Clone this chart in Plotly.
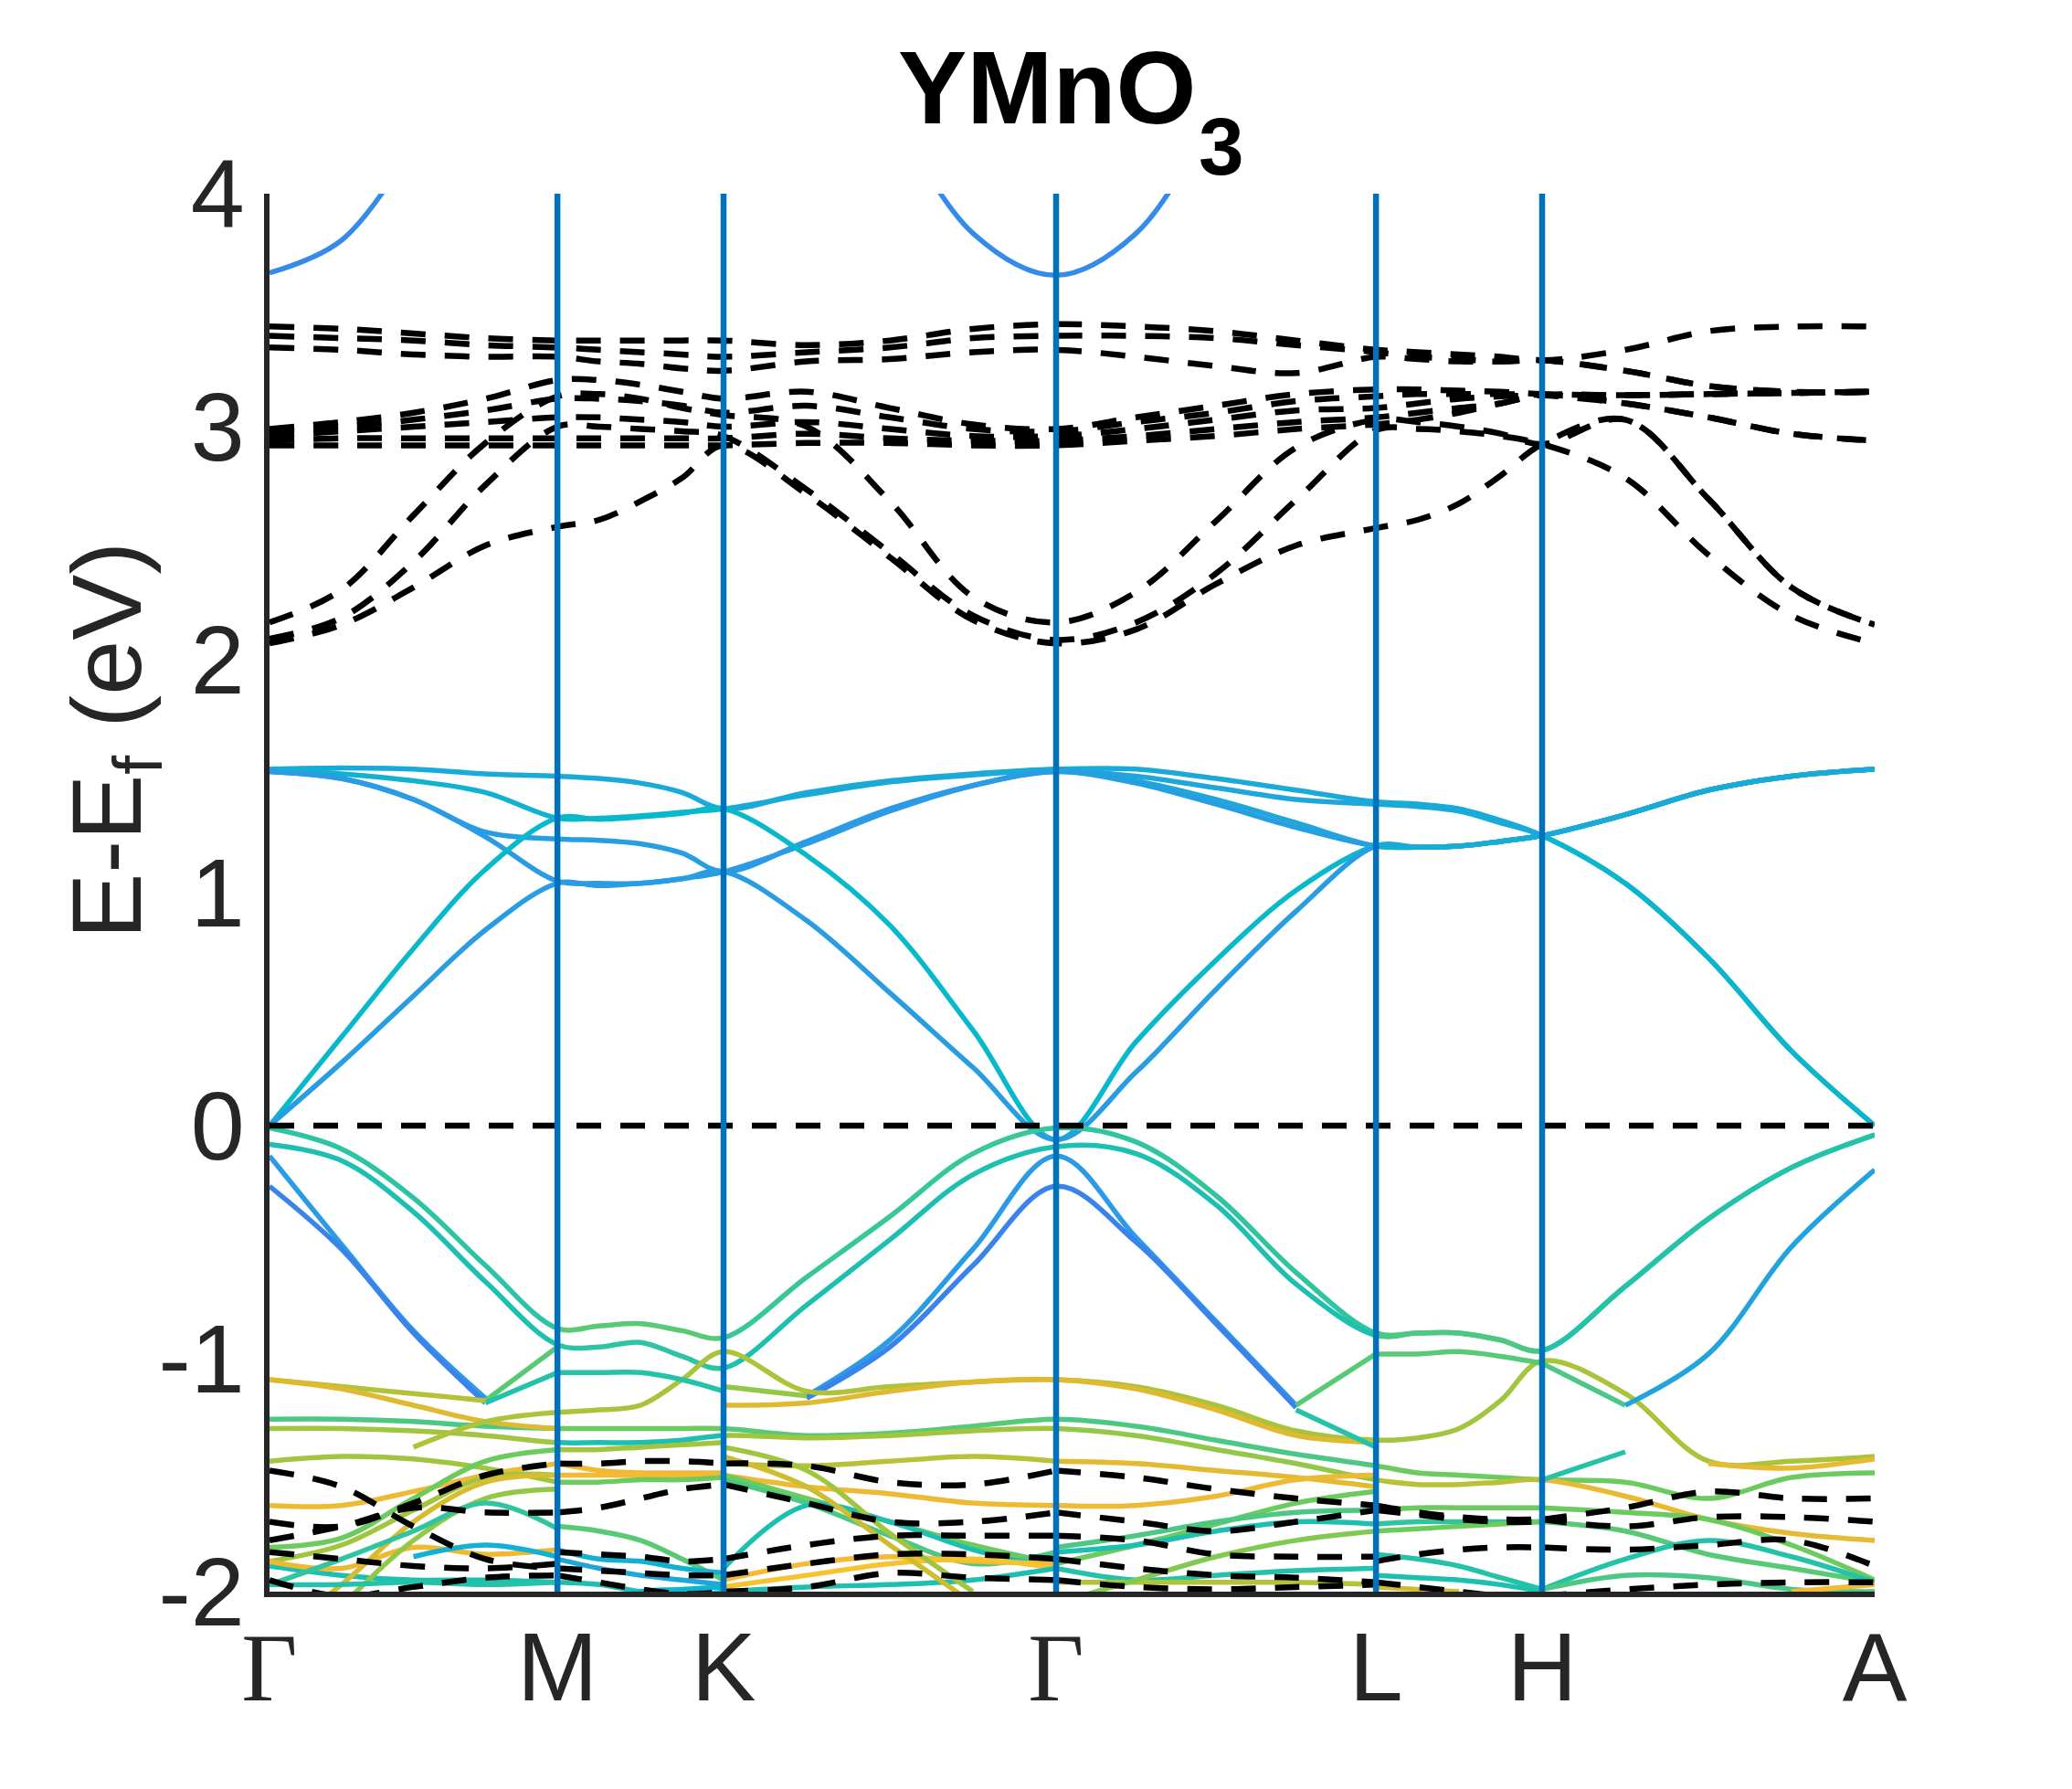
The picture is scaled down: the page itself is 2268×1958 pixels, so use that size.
import numpy as np
import plotly.graph_objects as go
from plotly.colors import sample_colorscale

##### Data #####
# high-symmetry points along the k-path (units of |Gamma-M|)
K_TICKS = [0.0, 1.0, 1.577, 2.732, 3.843, 4.420, 5.575]
K_LABELS = ['Γ', 'M', 'K', 'Γ', 'L', 'H', 'A']
Y_TICKS = [-2, -1, 0, 1, 2, 3, 4]
Y_TICK_LABELS = ['-2', '-1', '0', '1', '2', '3', '4']
E_FERMI = 0.0
PTS_PER_SEG = 5   # samples per path segment (both ends included)

# bands followed along the whole path: 25 values (4 steps per segment), eV
# weights = orbital projection per segment (0..1)
PATH_BANDS = [
    [1.53, 1.535, 1.53, 1.51, 1.50, 1.49, 1.47, 1.43, 1.36, 1.43, 1.48, 1.51, 1.53,
     1.53, 1.49, 1.44, 1.39, 1.38, 1.36, 1.31, 1.245, 1.04, 0.72, 0.32, 0.0],
    [1.53, 1.51, 1.48, 1.43, 1.32, 1.32, 1.33, 1.345, 1.36, 1.42, 1.475, 1.505, 1.525,
     1.50, 1.45, 1.40, 1.38, 1.37, 1.35, 1.30, 1.245, 1.04, 0.72, 0.32, 0.0],
    [1.52, 1.49, 1.40, 1.26, 1.23, 1.225, 1.21, 1.17, 1.09, 1.22, 1.36, 1.46, 1.52,
     1.48, 1.40, 1.30, 1.20, 1.195, 1.20, 1.22, 1.245, 1.335, 1.44, 1.50, 1.53],
    [1.52, 1.49, 1.40, 1.24, 1.05, 1.04, 1.04, 1.06, 1.09, 1.21, 1.35, 1.46, 1.52,
     1.47, 1.38, 1.28, 1.20, 1.195, 1.20, 1.22, 1.245, 1.335, 1.44, 1.50, 1.53],
    [0.0, 0.38, 0.76, 1.10, 1.32, 1.315, 1.325, 1.34, 1.36, 1.16, 0.86, 0.41, -0.06,
     0.36, 0.71, 1.01, 1.20, 1.195, 1.20, 1.22, 1.245, 1.335, 1.44, 1.50, 1.53],
    [0.0, 0.27, 0.557, 0.84, 1.04, 1.03, 1.04, 1.06, 1.09, 0.88, 0.57, 0.25, -0.06,
     0.23, 0.585, 0.92, 1.20, 1.195, 1.20, 1.22, 1.245, 1.335, 1.44, 1.50, 1.53],
    [3.66, 3.80, 4.21, None, None, None, None, None, None, None, 4.38, 3.83, 3.65,
     3.83, 4.36, None, None, None, None, None, None, None, None, None, None],
    [-0.01, -0.10, -0.31, -0.60, -0.87, -0.86, -0.85, -0.88, -0.91, -0.65, -0.39, -0.12, -0.01,
     -0.07, -0.30, -0.63, -0.89, -0.89, -0.89, -0.92, -0.965, -0.69, -0.40, -0.18, -0.04],
    [-0.08, -0.15, -0.37, -0.67, -0.94, -0.95, -0.93, -0.99, -1.04, -0.77, -0.49, -0.21, -0.09,
     -0.12, -0.34, -0.68, -0.90, -0.89, -0.89, -0.92, -0.965, -0.69, -0.40, -0.18, -0.04],
    [-0.13, -0.51, -0.88, -1.17, None, None, None, None, None, -1.16, -0.92, -0.53, -0.13,
     -0.48, -0.84, -1.20, None, None, None, None, None, None, None, None, None],
    [-0.26, -0.53, -0.89, -1.19, None, None, None, None, None, -1.17, -0.95, -0.60, -0.26,
     -0.50, -0.85, -1.21, None, None, None, None, None, None, None, None, None],
    [None, None, None, None, -1.23, -1.22, -1.20, -1.09, -0.97, -1.14, -1.12, -1.10, -1.09,
     -1.12, -1.20, -1.31, -1.35, -1.34, -1.30, -1.18, -1.01, -1.15, -1.44, -1.44, -1.42],
    [None, None, None, None, None, None, None, None, -1.20, -1.19, -1.14, -1.10, -1.09,
     -1.13, -1.22, -1.33, -1.36, None, None, None, None, None, None, None, None],
    [-1.26, -1.26, -1.27, -1.29, -1.30, -1.30, -1.30, -1.30, -1.30, -1.33, -1.32, -1.29, -1.26,
     -1.29, -1.35, -1.41, -1.46, -1.49, -1.50, -1.51, -1.52, -1.53, -1.60, -1.51, -1.49],
    [-1.30, -1.30, -1.31, -1.33, -1.36, -1.36, -1.36, -1.35, -1.33, -1.34, -1.33, -1.31, -1.30,
     -1.33, -1.39, -1.45, -1.52, -1.54, -1.54, -1.53, -1.52, -1.59, -1.69, -1.75, -1.78],
]
PATH_WEIGHTS = [
    [0.27, 0.27, 0.27, 0.27, 0.27, 0.32],
    [0.30, 0.33, 0.27, 0.25, 0.27, 0.32],
    [0.22, 0.22, 0.20, 0.25, 0.28, 0.27],
    [0.20, 0.20, 0.20, 0.22, 0.28, 0.27],
    [0.33, 0.33, 0.33, 0.33, 0.28, 0.27],
    [0.21, 0.21, 0.21, 0.21, 0.28, 0.27],
    [0.15, 0.15, 0.15, 0.15, 0.15, 0.15],
    [0.44, 0.52, 0.47, 0.45, 0.50, 0.42],
    [0.40, 0.44, 0.40, 0.40, 0.50, 0.42],
    [0.20, 0.20, 0.20, 0.20, 0.20, 0.20],
    [0.12, 0.12, 0.12, 0.12, 0.12, 0.12],
    [0.65, 0.63, 0.64, 0.63, 0.62, 0.63],
    [0.74, 0.74, 0.74, 0.74, 0.74, 0.74],
    [0.50, 0.55, 0.52, 0.50, 0.55, 0.55],
    [0.62, 0.40, 0.62, 0.60, 0.66, 0.76],
]
# other spin channel followed along the whole path (eV)
PATH_DASHED = [
    [3.43, 3.42, 3.40, 3.38, 3.37, 3.37, 3.37, 3.37, 3.37, 3.35, 3.37, 3.42, 3.44,
     3.43, 3.41, 3.37, 3.33, 3.32, 3.31, 3.30, 3.285, 3.33, 3.41, 3.43, 3.43],
    [3.39, 3.38, 3.37, 3.35, 3.34, 3.33, 3.32, 3.31, 3.30, 3.32, 3.34, 3.38, 3.39,
     3.39, 3.38, 3.35, 3.32, 3.30, 3.29, 3.28, 3.285, 3.24, 3.175, 3.15, 3.15],
    [3.34, 3.33, 3.31, 3.30, 3.30, 3.28, 3.27, 3.25, 3.24, 3.28, 3.29, 3.32, 3.33,
     3.30, 3.26, 3.23, 3.30, 3.29, 3.28, 3.28, 3.285, 3.24, 3.175, 3.15, 3.15],
    [2.99, 3.02, 3.06, 3.12, 3.20, 3.20, 3.18, 3.15, 3.12, 3.15, 3.08, 3.01, 2.99,
     3.04, 3.09, 3.14, 3.16, 3.16, 3.155, 3.15, 3.14, 3.135, 3.14, 3.145, 3.15],
    [2.98, 3.00, 3.03, 3.07, 3.12, 3.12, 3.11, 3.09, 3.06, 3.09, 3.04, 2.99, 2.98,
     3.02, 3.06, 3.11, 3.13, 3.14, 3.14, 3.14, 3.135, 3.10, 3.04, 2.97, 2.94],
    [2.96, 2.98, 3.00, 3.02, 3.04, 3.04, 3.03, 3.02, 3.00, 3.02, 2.99, 2.96, 2.96,
     2.99, 3.03, 3.07, 3.08, 3.10, 3.12, 3.13, 3.135, 3.135, 3.14, 3.145, 3.15],
    [2.94, 2.95, 2.95, 2.95, 2.95, 2.95, 2.95, 2.95, 2.95, 2.97, 2.95, 2.94, 2.94,
     2.96, 2.99, 3.02, 3.04, 3.06, 3.08, 3.10, 3.135, 3.10, 3.04, 2.97, 2.94],
    [2.92, 2.92, 2.92, 2.92, 2.92, 2.92, 2.92, 2.92, 2.92, 2.93, 2.93, 2.92, 2.92,
     2.94, 2.96, 2.99, 3.01, 3.03, 3.06, 3.10, 3.135, 3.135, 3.14, 3.145, 3.15],
    [2.16, 2.30, 2.62, 2.93, 3.13, 3.14, 3.12, 3.08, 3.05, 3.00, 2.68, 2.27, 2.16,
     2.29, 2.595, 2.91, 3.03, 3.02, 3.00, 2.97, 2.925, 3.03, 2.69, 2.31, 2.15],
    [2.09, 2.18, 2.42, 2.75, 3.00, 3.00, 2.99, 2.98, 2.96, 2.73, 2.46, 2.19, 2.085,
     2.16, 2.37, 2.685, 2.985, 2.99, 2.98, 2.96, 2.925, 2.78, 2.45, 2.19, 2.07],
    [2.07, 2.15, 2.31, 2.49, 2.57, 2.60, 2.68, 2.78, 2.92, 2.71, 2.44, 2.17, 2.07,
     2.13, 2.325, 2.49, 2.565, 2.60, 2.67, 2.79, 2.925, 3.03, 2.69, 2.31, 2.15],
]

# short pieces inside one segment (5 values each), mostly the tangle below -1 eV
GM_BANDS = [
    [None, None, None, -1.18, -0.95],
    [None, None, None, -1.19, -1.06],
    [-1.09, -1.12, -1.15, -1.18, None],
    [-1.09, -1.13, -1.20, -1.27, -1.30],
    [-1.44, -1.42, -1.43, -1.47, -1.53],
    [None, None, -1.38, -1.27, -1.23],
    [-1.63, -1.63, -1.57, -1.50, -1.45],
    [-1.81, -1.77, -1.60, -1.44, -1.39],
    [-1.87, -1.80, -1.65, -1.51, -1.50],
    [-1.89, -1.93, -1.95, -1.95, -1.96],
    [-1.87, -1.90, -1.81, -1.84, -1.82],
    [-2.20, -1.97, -1.70, -1.53, -1.50],
    [-2.35, -2.06, -1.78, -1.60, -1.56],
    [-1.97, -1.86, -1.74, -1.62, -1.73],
    [None, None, -1.85, -1.80, -1.85],
    [-1.97, -1.97, -1.96, -1.97, -1.96],
]
GM_WEIGHTS = [0.52, 0.42, 0.65, 0.74, 0.62, 0.64, 0.78, 0.55, 0.62, 0.40, 0.78, 0.72,
              0.60, 0.45, 0.30, 0.42]
GM_DASHED = [
    [-1.48, -1.55, -1.72, -1.86, -1.90],
    [-1.70, -1.72, -1.62, -1.50, -1.45],
    [-1.78, -1.72, -1.64, -1.66, -1.66],
    [-1.83, -1.86, -1.89, -1.90, -1.88],
    [-1.95, -2.02, -1.98, -1.94, -1.93],
]

MK_BANDS = [
    [-1.06, -1.06, -1.06, -1.09, -1.14],
    [-1.39, -1.39, -1.38, -1.37, -1.36],
    [-1.45, -1.48, -1.49, -1.49, -1.49],
    [-1.50, -1.50, -1.50, -1.50, -1.50],
    [-1.53, -1.53, -1.52, -1.52, -1.51],
    [-1.72, -1.74, -1.78, -1.86, -1.95],
    [-1.82, -1.86, -1.87, -1.90, -1.92],
    [-1.86, -1.90, -1.93, -1.95, -1.97],
    [-1.96, -1.97, -2.00, -2.02, -2.00],
    [None, -2.05, -2.00, -1.99, -1.98],
]
MK_WEIGHTS = [0.42, 0.62, 0.78, 0.80, 0.55, 0.52, 0.30, 0.25, 0.40, 0.32]
MK_DASHED = [
    [-1.45, -1.45, -1.44, -1.44, -1.45],
    [-1.66, -1.64, -1.60, -1.56, -1.54],
    [-1.83, -1.84, -1.85, -1.87, -1.86],
    [-1.90, -1.91, -1.92, -1.93, -1.93],
    [-1.93, -1.96, -1.99, -2.01, -2.00],
]

KG_BANDS = [
    [-1.12, -1.16, None, None, None],
    [-1.45, -1.46, -1.44, -1.42, -1.44],
    [-1.50, -1.55, -1.58, -1.62, -1.63],
    [-1.50, -1.60, -1.70, -1.80, -1.88],
    [-1.52, -1.62, -1.76, -1.88, -1.83],
    [-1.90, -1.63, -1.70, -1.82, -1.90],
    [-1.95, -1.88, -1.85, -1.87, -1.88],
    [-1.98, -1.93, -1.88, -1.86, -1.90],
    [-2.00, -1.98, -1.97, -1.95, -1.90],
    [-1.42, -1.55, -1.80, -2.05, None],
    [-1.38, -1.48, -1.75, -2.00, None],
]
KG_WEIGHTS = [0.60, 0.66, 0.78, 0.55, 0.50, 0.40, 0.80, 0.86, 0.40, 0.70, 0.62]
KG_DASHED = [
    [-1.45, -1.46, -1.53, -1.54, -1.48],
    [-1.54, -1.62, -1.70, -1.70, -1.66],
    [-1.86, -1.80, -1.76, -1.76, -1.76],
    [-1.93, -1.88, -1.84, -1.84, -1.86],
    [-2.00, -1.98, -1.92, -1.94, -1.95],
]

GL_BANDS = [
    [None, None, None, -1.20, -0.98],
    [None, None, None, -1.22, -1.38],
    [-1.44, -1.45, -1.48, -1.51, -1.55],
    [-1.63, -1.63, -1.59, -1.52, -1.50],
    [-1.88, -1.80, -1.71, -1.62, -1.57],
    [-1.81, -1.76, -1.70, -1.66, -1.65],
    [-1.90, -1.95, -1.93, -1.91, -1.90],
    [-1.96, -1.96, -1.96, -1.96, -1.97],
    [-1.83, -1.80, -1.74, -1.70, -1.71],
    [-2.05, -1.95, -1.85, -1.78, -1.74],
]
GL_WEIGHTS = [0.52, 0.42, 0.75, 0.78, 0.55, 0.50, 0.42, 0.65, 0.40, 0.58]
GL_DASHED = [
    [-1.48, -1.51, -1.56, -1.60, -1.63],
    [-1.66, -1.70, -1.74, -1.70, -1.65],
    [-1.76, -1.78, -1.84, -1.85, -1.85],
    [-1.86, -1.90, -1.93, -1.94, -1.96],
    [-1.95, -1.98, -1.99, -1.98, -1.97],
]

LH_BANDS = [
    [-0.98, -0.98, -0.97, -0.99, -1.02],
    [-1.65, -1.64, -1.64, -1.64, -1.64],
    [-1.71, -1.70, -1.70, -1.70, -1.70],
    [-1.74, -1.73, -1.72, -1.71, -1.70],
    [-1.84, -1.86, -1.89, -1.94, -1.99],
    [-1.93, -1.94, -1.95, -1.97, -2.00],
    [-1.98, -1.99, -2.00, None, None],
]
LH_WEIGHTS = [0.52, 0.55, 0.45, 0.55, 0.42, 0.40, 0.70]
LH_DASHED = [
    [-1.63, -1.66, -1.68, -1.69, -1.69],
    [-1.65, -1.67, -1.69, -1.70, -1.70],
    [-1.87, -1.84, -1.82, -1.81, -1.81],
    [-1.96, -1.98, -2.00, -2.02, None],
]

HA_BANDS = [
    [-1.02, -1.20, None, None, None],
    [None, -1.20, -0.98, -0.52, -0.19],
    [None, None, -1.45, -1.47, -1.43],
    [-1.52, -1.40, None, None, None],
    [-1.64, -1.66, -1.69, -1.80, -1.95],
    [-1.70, -1.74, -1.84, -1.90, -1.96],
    [-1.99, -1.86, -1.78, -1.85, -1.96],
    [-1.99, -1.93, -1.94, -1.99, -2.00],
    [None, None, None, -2.00, -1.97],
]
HA_WEIGHTS = [0.50, 0.24, 0.76, 0.42, 0.55, 0.52, 0.42, 0.50, 0.80]
HA_DASHED = [
    [-1.69, -1.64, -1.57, -1.60, -1.60],
    [-1.69, -1.72, -1.68, -1.68, -1.70],
    [-1.81, -1.82, -1.80, -1.78, -1.89],
    [-2.02, -1.99, -1.97, -1.96, -1.96],
]

##### Style #####
BAND_CMAP = [
    [0.00, '#4361f0'], [0.12, '#3a82ec'], [0.20, '#2a9be4'], [0.27, '#1aaad8'],
    [0.33, '#08b8cb'], [0.40, '#1dc0b0'], [0.47, '#38c79a'], [0.55, '#6ccb5f'],
    [0.63, '#a9c43a'], [0.72, '#d8bb2f'], [0.80, '#f5b935'], [1.00, '#f9dc22'],
]
AXIS_COLOR = '#262626'
SYM_LINE_COLOR = '#0072BD'
DASH = '27px,21px'
BAND_WIDTH = 5.5
DASH_WIDTH = 6.5
SANS = 'Liberation Sans, Arial, Helvetica, sans-serif'
SERIF = 'Liberation Serif, Times New Roman, serif'
TICK_FONT = dict(family=SANS, size=106, color=AXIS_COLOR)

segment_pieces = [
    (GM_BANDS, GM_WEIGHTS, GM_DASHED),
    (MK_BANDS, MK_WEIGHTS, MK_DASHED),
    (KG_BANDS, KG_WEIGHTS, KG_DASHED),
    (GL_BANDS, GL_WEIGHTS, GL_DASHED),
    (LH_BANDS, LH_WEIGHTS, LH_DASHED),
    (HA_BANDS, HA_WEIGHTS, HA_DASHED),
]
n_seg = len(K_TICKS) - 1
seg_k = [np.linspace(K_TICKS[i], K_TICKS[i + 1], PTS_PER_SEG) for i in range(n_seg)]
k_path = np.concatenate([k[:-1] for k in seg_k] + [[K_TICKS[-1]]])
step = PTS_PER_SEG - 1


def band_color(w):
    return sample_colorscale(BAND_CMAP, [w])[0]


def has_data(values, i):
    return any(v is not None for v in values[i * step:(i + 1) * step + 1])


fig = go.Figure()

# every segment gets its own x-axis (same scale), so a band that runs through a
# high-symmetry point stays one smooth curve but can change colour at the point
for i in range(n_seg):
    xa = f'x{i + 2}'
    for e, w in zip(PATH_BANDS, PATH_WEIGHTS):
        if has_data(e, i):
            fig.add_trace(go.Scatter(
                x=k_path, y=e, xaxis=xa, yaxis='y', mode='lines', hoverinfo='skip',
                line=dict(color=band_color(w[i]), width=BAND_WIDTH, shape='spline'),
            ))
    bands, weights, dashed = segment_pieces[i]
    for e, w in zip(bands, weights):
        fig.add_trace(go.Scatter(
            x=seg_k[i], y=e, xaxis=xa, yaxis='y', mode='lines', hoverinfo='skip',
            line=dict(color=band_color(w), width=BAND_WIDTH, shape='spline'),
        ))
    for e in PATH_DASHED:
        if has_data(e, i):
            fig.add_trace(go.Scatter(
                x=k_path, y=e, xaxis=xa, yaxis='y', mode='lines', hoverinfo='skip',
                line=dict(color='black', width=DASH_WIDTH, dash=DASH, shape='spline'),
            ))
    for e in dashed:
        fig.add_trace(go.Scatter(
            x=seg_k[i], y=e, xaxis=xa, yaxis='y', mode='lines', hoverinfo='skip',
            line=dict(color='black', width=DASH_WIDTH, dash=DASH, shape='spline'),
        ))

# main axis carries the labels (invisible anchor trace)
fig.add_trace(go.Scatter(x=[K_TICKS[0], K_TICKS[-1]], y=[None, None], mode='lines',
                         hoverinfo='skip', xaxis='x', yaxis='y'))

# Fermi level and high-symmetry lines on top of the bands
shapes = [dict(type='line', xref='x', yref='y', layer='above',
               x0=K_TICKS[0], x1=K_TICKS[-1], y0=E_FERMI, y1=E_FERMI,
               line=dict(color='black', width=DASH_WIDTH, dash=DASH))]
for kv in K_TICKS[1:-1]:
    shapes.append(dict(type='line', xref='x', yref='y', layer='above',
                       x0=kv, x1=kv, y0=Y_TICKS[0], y1=Y_TICKS[-1],
                       line=dict(color=SYM_LINE_COLOR, width=6.5)))

x_labels = [f'<span style="font-family:{SERIF}">{s}</span>' if s == 'Γ' else s
            for s in K_LABELS]

layout = dict(
    width=2252, height=1942,
    margin=dict(l=287, r=208, t=204, b=208),
    plot_bgcolor='white', paper_bgcolor='white',
    showlegend=False,
    shapes=shapes,
    xaxis=dict(
        domain=[0, 1], range=[K_TICKS[0], K_TICKS[-1]], anchor='y',
        tickvals=K_TICKS, ticktext=x_labels, ticks='',
        showgrid=False, zeroline=False,
        showline=True, linecolor=AXIS_COLOR, linewidth=6,
        tickfont=TICK_FONT, ticklabelstandoff=-14,
    ),
    yaxis=dict(
        range=[Y_TICKS[0], Y_TICKS[-1]], anchor='x',
        tickvals=Y_TICKS, ticktext=Y_TICK_LABELS,
        ticks='inside', ticklen=20, tickwidth=6, tickcolor=AXIS_COLOR,
        showgrid=False, zeroline=False,
        showline=True, linecolor=AXIS_COLOR, linewidth=6,
        tickfont=TICK_FONT, ticklabelstandoff=0,
    ),
    annotations=[
        dict(text='<b>YMnO</b>', xref='paper', yref='paper', x=0.4846, y=1.0758,
             xanchor='center', yanchor='middle', showarrow=False,
             font=dict(family=SANS, size=113, color='black')),
        dict(text='<b>3</b>', xref='paper', yref='paper', x=0.5933, y=1.034,
             xanchor='center', yanchor='middle', showarrow=False,
             font=dict(family=SANS, size=89, color='black')),
        dict(text='E-E<sub>f</sub> (eV)', xref='paper', yref='paper', x=-0.097, y=0.609,
             xanchor='center', yanchor='middle', textangle=-90, showarrow=False,
             font=dict(family=SANS, size=108, color=AXIS_COLOR)),
    ],
)
for i in range(n_seg):
    layout[f'xaxis{i + 2}'] = dict(
        domain=[K_TICKS[i] / K_TICKS[-1], K_TICKS[i + 1] / K_TICKS[-1]],
        range=[K_TICKS[i], K_TICKS[i + 1]], anchor='y', visible=False,
    )
fig.update_layout(**layout)

fig.write_html('out.html')
